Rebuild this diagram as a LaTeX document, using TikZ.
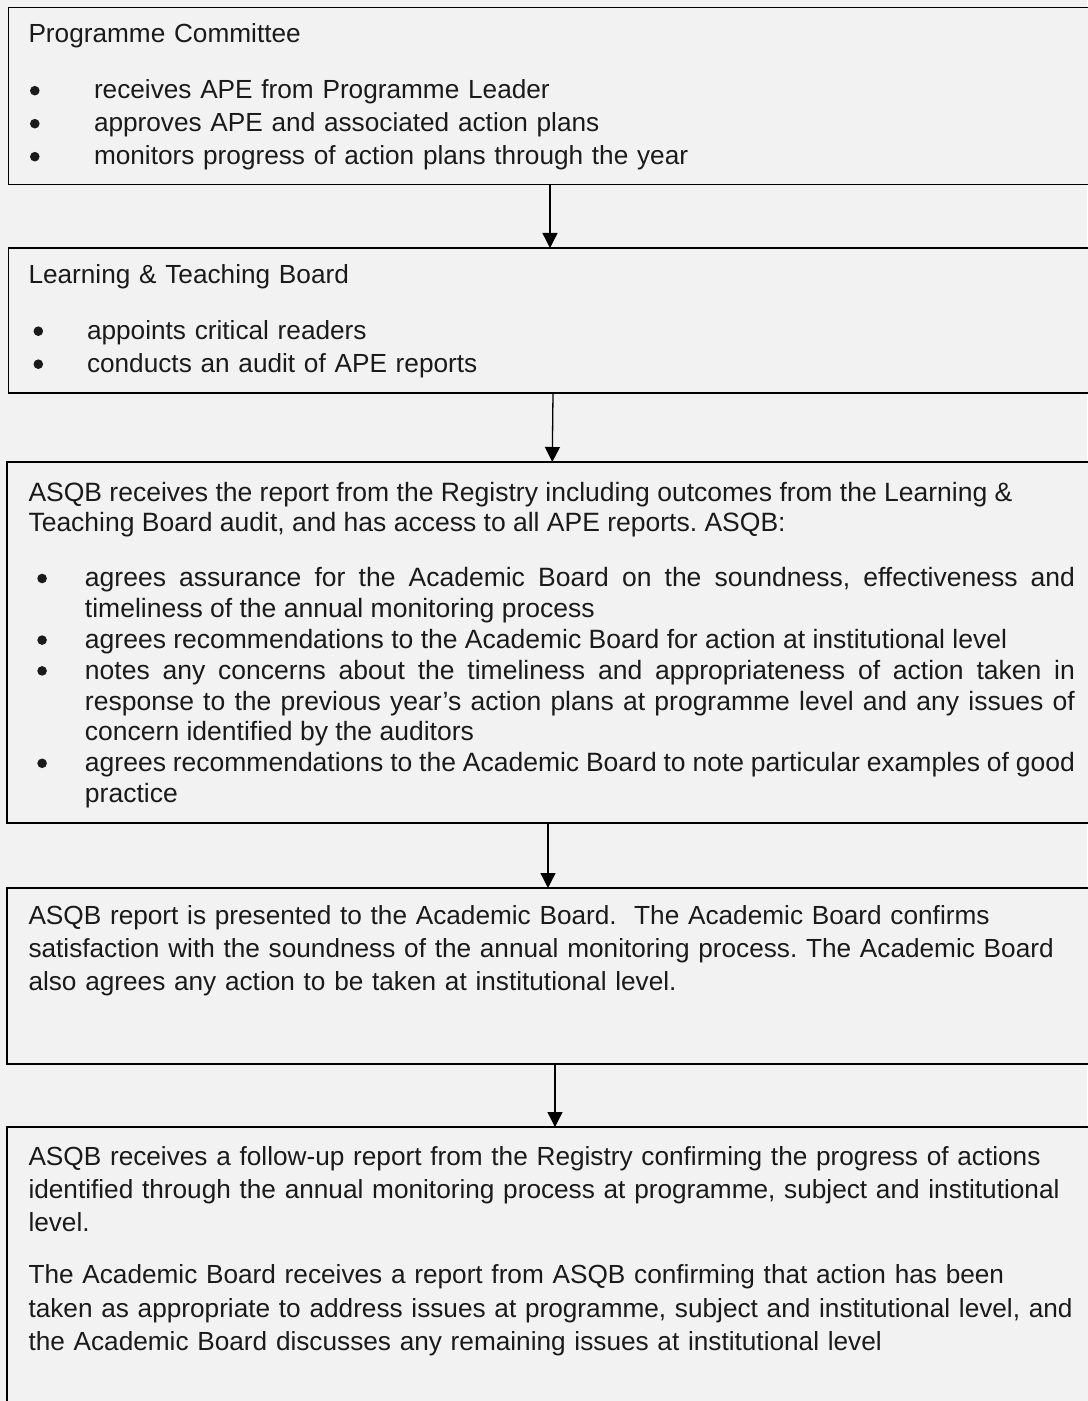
\documentclass[tikz,border=0pt]{standalone}
\usepackage{fontspec}
\setmainfont{Liberation Sans}
\usetikzlibrary{arrows.meta}
\definecolor{bg}{HTML}{F2F2F2}
\definecolor{txt}{HTML}{1A1A1A}
\newcommand\bul[2]{\par\noindent\hangindent=#2\hangafter=0\llap{\makebox[#2][l]{\hspace*{#1}\tikz[baseline=0pt]\fill[txt] (2.4pt,4.15pt) circle[radius=2.4pt];}}\ignorespaces}
\newcommand\fs{\rule{0pt}{11pt}}
\begin{document}
\begin{tikzpicture}[x=0.5pt,y=-0.5pt,
  boxst/.style={draw=black, line width=0.85pt, fill=bg, rectangle, inner sep=0pt, outer sep=0pt, anchor=north west, minimum width=545.75pt},
  txtst/.style={anchor=north west, inner sep=0pt, outer sep=0pt, text=txt, text width=545pt, align=left,
    font={\fontsize{13.1pt}{16.5pt}\selectfont\frenchspacing\parindent=0pt\parskip=0pt\hyphenpenalty=10000\exhyphenpenalty=10000\tolerance=9999}},
  arr/.style={draw=black, line width=0.65pt, -{Triangle[length=7.5pt,width=7.5pt]}}]
\path[use as bounding box, fill=bg] (0,0) rectangle (1087,1401);
% boxes
\node[boxst, minimum height=88.5pt] (b1) at (8.5,7.5) {};
\node[boxst, minimum height=72.5pt] (b2) at (8.5,248) {};
\node[boxst, minimum height=180.5pt, minimum width=546.5pt] (b3) at (7,462) {};
\node[boxst, minimum height=88pt, minimum width=546.5pt, line width=1.1pt] (b4) at (7,888) {};
\node[boxst, minimum height=151.5pt, minimum width=546.5pt] (b5) at (7,1127) {};
% texts
\node[txtst] (t1) at (28.5,21) {\fs Programme Committee\par\vspace{11.5pt}
\bul{0.75pt}{32.75pt}receives APE from Programme Leader
\bul{0.75pt}{32.75pt}approves APE and associated action plans
\bul{0.75pt}{32.75pt}monitors progress of action plans through the year\par};
\node[txtst] (t2) at (28.5,261.5) {\fs Learning \& Teaching Board\par\vspace{11.5pt}
\bul{2.5pt}{29.25pt}appoints critical readers
\bul{2.5pt}{29.25pt}conducts an audit of APE reports\par};
\node[txtst, text width=523.25pt, align=justify,
  font={\fontsize{13.25pt}{15.4pt}\selectfont\frenchspacing\parindent=0pt\parskip=0pt\hyphenpenalty=10000\exhyphenpenalty=10000\tolerance=9999}] (t3) at (28.5,479) {\fs ASQB receives the report from the Registry including outcomes from the Learning \&\newline Teaching Board audit, and has access to all APE reports. ASQB:\par\vspace{12.1pt}
\bul{4.4pt}{28.25pt}agrees assurance for the Academic Board on the soundness, effectiveness and\linebreak timeliness of the annual monitoring process
\bul{4.4pt}{28.25pt}agrees recommendations to the Academic Board for action at institutional level
\bul{4.4pt}{28.25pt}notes any concerns about the timeliness and appropriateness of action taken in\linebreak response to the previous year’s action plans at programme level and any issues of\linebreak concern identified by the auditors
\bul{4.4pt}{28.25pt}agrees recommendations to the Academic Board to note particular examples of good\linebreak practice\par};
\node[txtst] (t4) at (28.5,902) {\fs ASQB report is presented to the Academic Board.\ \ The Academic Board confirms\newline satisfaction with the soundness of the annual monitoring process. The Academic Board\newline also agrees any action to be taken at institutional level.\par};
\node[txtst, font={\fontsize{13.1pt}{16.6pt}\selectfont\frenchspacing\parindent=0pt\parskip=0pt\hyphenpenalty=10000\exhyphenpenalty=10000}] (t5) at (28.5,1143) {\fs ASQB receives a follow-up report from the Registry confirming the progress of actions\newline identified through the annual monitoring process at programme, subject and institutional\newline level.\par\vspace{9.65pt}
The Academic Board receives a report from ASQB confirming that action has been\newline taken as appropriate to address issues at programme, subject and institutional level, and\newline the Academic Board discusses any remaining issues at institutional level\par};
% connectors
\draw[arr] ([xshift=-2.125pt]b1.south) -- ([xshift=-2.125pt]b2.north);
\draw[arr] ([xshift=-0.625pt]b2.south) -- ([xshift=-0.625pt]b3.north);
\draw[arr] ([xshift=-2.75pt]b3.south) -- ([xshift=-2.75pt]b4.north);
\draw[arr] ([xshift=0.75pt]b4.south) -- ([xshift=0.75pt]b5.north);
\end{tikzpicture}
\end{document}
